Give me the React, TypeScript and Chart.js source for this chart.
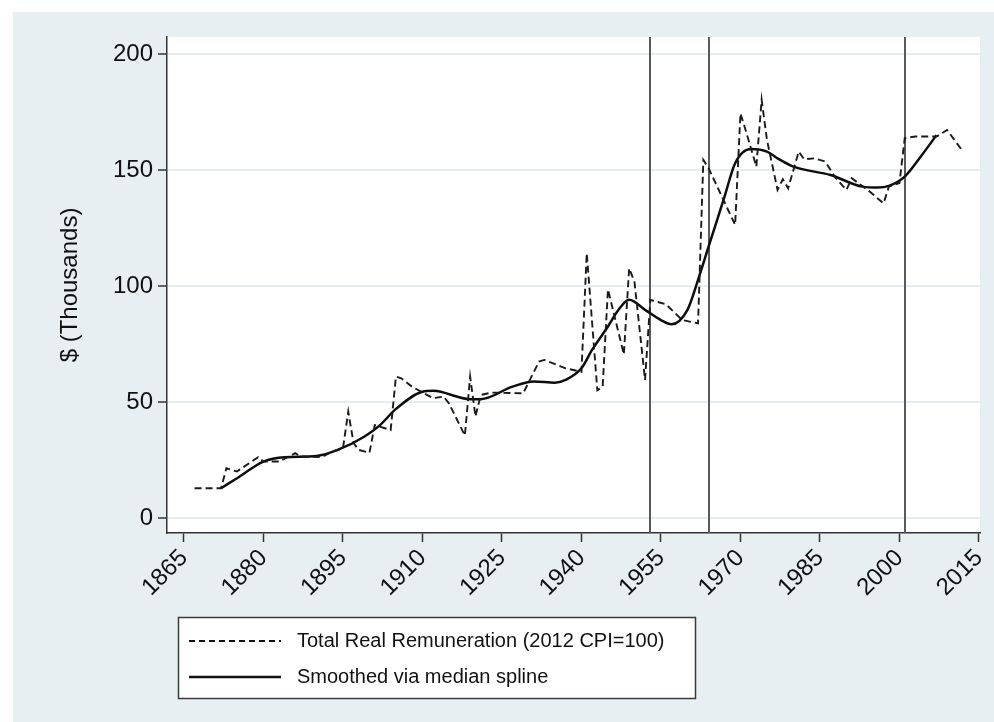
import React, { useEffect, useRef } from "react";
import { Chart, registerables } from "chart.js";

Chart.register(...registerables);

// ---- Data ----
const tickYears = [1865, 1880, 1895, 1910, 1925, 1940, 1955, 1970, 1985, 2000, 2015];
const yTickValues = [0, 50, 100, 150, 200];

const remunYears = [
  1867, 1872, 1873, 1875, 1879, 1880, 1883, 1886, 1887, 1891, 1893, 1895, 1896, 1897, 1898, 1900,
  1901, 1904, 1905, 1906, 1908, 1912, 1914, 1915, 1918, 1919, 1920, 1921, 1923, 1929, 1932, 1933,
  1937, 1940, 1941, 1943, 1944, 1945, 1948, 1949, 1950, 1952, 1953, 1956, 1959, 1962, 1963, 1964,
  1969, 1970, 1971, 1973, 1974, 1975, 1977, 1978, 1979, 1981, 1982, 1984, 1986, 1988, 1990, 1991,
  1994, 1997, 1998, 2000, 2001, 2003, 2007, 2009, 2012,
];
const remunValues = [
  12.8, 12.8, 21.4, 20.0, 26.2, 24.3, 24.3, 27.9, 26.5, 26.2, 28.6, 30.0, 45.8, 32.3, 29.3, 28.1,
  40.0, 37.9, 60.9, 60.2, 56.6, 51.6, 52.3, 49.4, 35.5, 60.9, 43.7, 53.0, 54.0, 53.7, 67.4, 68.1,
  64.5, 63.0, 114.1, 55.0, 56.6, 98.5, 70.5, 107.6, 101.8, 59.5, 94.0, 92.0, 85.3, 83.9, 154.3, 150.7,
  126.3, 174.4, 167.0, 151.4, 180.2, 163.0, 141.4, 146.0, 142.1, 157.9, 154.6, 155.0, 153.6, 146.4, 141.4, 146.4,
  141.4, 135.6, 142.8, 144.3, 163.7, 164.4, 164.4, 167.2, 157.9,
];

const smoothYears = [
  1872, 1875, 1880, 1884, 1890, 1894, 1899, 1902, 1905, 1910, 1912, 1919, 1921, 1927, 1931, 1935,
  1937, 1940, 1942, 1945, 1947, 1949, 1952, 1955, 1957, 1960, 1962, 1964, 1967, 1969, 1972, 1975,
  1977, 1980, 1987, 1993, 1996, 1998, 2001, 2004, 2007,
];
const smoothValues = [
  12.8, 17.1, 24.3, 26.2, 26.7, 29.3, 35.0, 40.0, 47.0, 54.4, 54.8, 51.2, 51.2, 56.6, 58.8, 58.3,
  59.5, 64.5, 72.4, 82.5, 89.7, 94.0, 89.7, 85.3, 83.5, 89.7, 102.6, 117.0, 138.5, 152.9, 159.0, 157.9,
  155.0, 151.4, 147.8, 142.8, 142.4, 143.1, 147.1, 155.7, 165.0,
];

const markerYears = [1953, 1964, 2001];

const seriesLabels = ["Total Real Remuneration (2012 CPI=100)", "Smoothed via median spline"];
const yAxisTitle = "$ (Thousands)";

const FONT = "'Liberation Sans', Arial, Helvetica, sans-serif";
const PANEL = "#e8eff2";

const backgroundPlugin = {
  id: "bgPanel",
  beforeDraw(chart: any) {
    const { ctx, width, height, chartArea } = chart;
    ctx.save();
    ctx.fillStyle = "#ffffff";
    ctx.fillRect(0, 0, width, height);
    ctx.fillStyle = PANEL;
    ctx.fillRect(13, 12, width - 13, height - 12);
    ctx.fillStyle = "#ffffff";
    ctx.fillRect(chartArea.left, chartArea.top, chartArea.right - chartArea.left, chartArea.bottom - chartArea.top);
    ctx.restore();
  },
};

const markerPlugin = {
  id: "markers",
  beforeDatasetsDraw(chart: any) {
    const { ctx, chartArea, scales } = chart;
    ctx.save();
    ctx.strokeStyle = "#5a5a5a";
    ctx.lineWidth = 2;
    markerYears.forEach((yr) => {
      const px = Math.round(scales.x.getPixelForValue(yr));
      ctx.beginPath();
      ctx.moveTo(px, chartArea.top);
      ctx.lineTo(px, chartArea.bottom);
      ctx.stroke();
    });
    ctx.restore();
  },
};

const legendPlugin = {
  id: "boxLegend",
  afterDraw(chart: any) {
    const { ctx } = chart;
    const bx = 178.5, by = 617.5, bw = 517, bh = 81;
    ctx.save();
    ctx.fillStyle = "#ffffff";
    ctx.fillRect(bx, by, bw, bh);
    ctx.strokeStyle = "#3a3a3a";
    ctx.lineWidth = 1.5;
    ctx.strokeRect(bx, by, bw, bh);
    const rows = [641, 677];
    ctx.font = `20px ${FONT}`;
    ctx.fillStyle = "#111";
    ctx.textBaseline = "middle";
    ctx.textAlign = "left";
    rows.forEach((ry, i) => {
      ctx.beginPath();
      ctx.strokeStyle = "#111";
      if (i === 0) {
        ctx.setLineDash([6, 4]);
        ctx.lineWidth = 1.8;
      } else {
        ctx.setLineDash([]);
        ctx.lineWidth = 2.5;
      }
      ctx.moveTo(189, ry);
      ctx.lineTo(281, ry);
      ctx.stroke();
      ctx.setLineDash([]);
      ctx.fillText(seriesLabels[i], 297, ry);
    });
    ctx.restore();
  },
};

export default function App() {
  const ref = useRef<HTMLCanvasElement | null>(null);

  useEffect(() => {
    if (!ref.current) return;
    const chart = new Chart(ref.current, {
      type: "line",
      data: {
        datasets: [
          {
            label: seriesLabels[0],
            data: remunYears.map((x, i) => ({ x, y: remunValues[i] })),
            borderColor: "#1a1a1a",
            borderWidth: 1.9,
            borderDash: [7, 4],
            pointRadius: 0,
            tension: 0,
            fill: false,
          },
          {
            label: seriesLabels[1],
            data: smoothYears.map((x, i) => ({ x, y: smoothValues[i] })),
            borderColor: "#0d0d0d",
            borderWidth: 2.5,
            pointRadius: 0,
            cubicInterpolationMode: "monotone",
            fill: false,
          },
        ],
      },
      options: {
        animation: false,
        responsive: false,
        maintainAspectRatio: false,
        devicePixelRatio: 1,
        layout: { padding: { left: 13, top: 37, right: 14, bottom: 0 } },
        plugins: { legend: { display: false }, tooltip: { enabled: false } },
        scales: {
          x: {
            type: "linear",
            min: 1861.8,
            max: 2015.2,
            afterBuildTicks: (s: any) => {
              s.ticks = tickYears.map((v) => ({ value: v }));
            },
            afterFit: (s: any) => {
              s.height = 189;
              s.paddingLeft = 0;
              s.paddingRight = 0;
            },
            grid: {
              drawOnChartArea: false,
              drawTicks: true,
              tickLength: 9,
              tickColor: "#333",
              tickWidth: 1.5,
            },
            border: { color: "#333", width: 1.5 },
            ticks: {
              autoSkip: false,
              minRotation: 45,
              maxRotation: 45,
              padding: 2,
              color: "#111",
              font: { family: FONT, size: 24 },
              callback: (v: any) => String(v),
            },
          },
          y: {
            type: "linear",
            min: -6.5,
            max: 207.3,
            afterBuildTicks: (s: any) => {
              s.ticks = yTickValues.map((v) => ({ value: v }));
            },
            afterFit: (s: any) => {
              s.width = 154;
              s.paddingTop = 0;
              s.paddingBottom = 0;
            },
            grid: {
              color: "#e4edf0",
              lineWidth: 2,
              drawTicks: true,
              tickLength: 9,
              tickColor: "#333",
              tickWidth: 1.5,
            },
            border: { color: "#333", width: 1.5 },
            ticks: {
              padding: 5,
              color: "#111",
              font: { family: FONT, size: 24 },
              callback: (v: any) => String(v),
            },
            title: {
              display: true,
              text: yAxisTitle,
              color: "#111",
              font: { family: FONT, size: 24 },
              padding: { top: 43, bottom: 0 },
            },
          },
        },
      },
      plugins: [backgroundPlugin, markerPlugin, legendPlugin],
    } as any);
    return () => chart.destroy();
  }, []);

  return (
    <div style={{ position: "fixed", left: 0, top: 0, width: 994, height: 722 }}>
      <canvas ref={ref} width={994} height={722} style={{ display: "block", width: 994, height: 722 }} />
    </div>
  );
}
